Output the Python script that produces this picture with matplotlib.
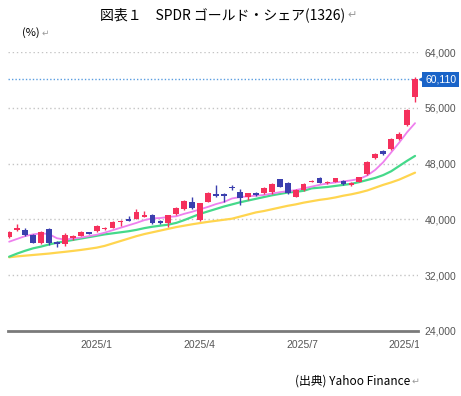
import numpy as np
import matplotlib
matplotlib.use("Agg")
import matplotlib.pyplot as plt
import matplotlib.dates as mdates
from matplotlib.transforms import Bbox, TransformedBbox, blended_transform_factory

# ---------------- data (weekly candles) ----------------
start_date = "2024-10-16"
n_weeks = 52

opens = [37520, 38480, 38480, 37760, 36570, 38580, 36800, 36430, 37290, 37660,
         38150, 38340, 38580, 38810, 39580, 40060, 40060, 40390, 40630, 39770,
         39530, 40730, 41490, 42450, 39910, 42540, 43640, 43640, 44650, 43970,
         43170, 43840, 43740, 43970, 45750, 45270, 43250, 44210, 45370, 45890,
         45180, 45410, 45560, 44890, 45410, 46470, 48760, 49810, 50050, 51530,
         53540, 57600]
closes = [38240, 38720, 37760, 36660, 38240, 36660, 36430, 37760, 37660, 38240,
          37950, 39050, 38810, 39670, 39770, 39820, 41110, 40630, 39440, 39440,
          40630, 41680, 42690, 41590, 42300, 43740, 43350, 43350, 44450, 43020,
          43740, 43500, 44550, 45080, 44690, 43740, 44210, 45030, 45560, 45270,
          45410, 45890, 45080, 45270, 46040, 48280, 49330, 49380, 51530, 52240,
          55690, 60110]
highs = [38400, 39340, 38800, 37900, 38400, 38750, 36900, 38000, 37800, 38300,
         38250, 39150, 38900, 39750, 39850, 40540, 41450, 41250, 40750, 39850,
         40700, 41750, 42800, 43250, 42400, 43900, 44930, 43800, 44930, 44400,
         43850, 43950, 44650, 45200, 45850, 45400, 44300, 45150, 45650, 46100,
         45500, 45990, 45650, 45350, 46150, 48400, 49450, 49950, 51650, 52550,
         55800, 60400]
lows = [37400, 38380, 37600, 36600, 36500, 36300, 36090, 36200, 37000, 37600,
        37900, 38250, 38500, 38700, 39100, 39750, 40000, 40300, 39350, 39350,
        38960, 40650, 41400, 41500, 39800, 42450, 43200, 42540, 44210, 42070,
        42800, 43400, 43650, 43700, 44600, 43650, 43150, 44100, 45300, 45200,
        45100, 45350, 45000, 44800, 45300, 46400, 48650, 49250, 49950, 51450,
        53450, 56870]

ma_short = [36800, 37200, 37600, 37850, 38000, 37900, 37300, 37100, 37250, 37400,
            37600, 37800, 38100, 38450, 38800, 39150, 39500, 39900, 40150, 40200,
            40350, 40450, 40800, 41100, 41450, 41800, 42200, 42500, 43000, 43200,
            43300, 43400, 43500, 43700, 43900, 44050, 44200, 44450, 44700, 44950,
            45150, 45300, 45450, 45600, 45800, 46300, 47100, 48200, 49600, 51000,
            52500, 53800]
ma_mid = [34650, 35100, 35500, 35850, 36100, 36400, 36650, 36850, 37050, 37250,
          37450, 37650, 37850, 38000, 38150, 38300, 38500, 38750, 38950, 39100,
          39250, 39500, 39900, 40350, 40800, 41150, 41500, 41850, 42150, 42450,
          42700, 42950, 43200, 43450, 43650, 43850, 43950, 44100, 44450, 44550,
          44650, 44800, 44950, 45100, 45350, 45650, 45950, 46350, 46900, 47650,
          48400, 49100]
ma_long = [34570, 34700, 34800, 34900, 35000, 35100, 35230, 35350, 35480, 35620,
           35780, 35950, 36200, 36550, 36900, 37250, 37600, 37900, 38150, 38400,
           38650, 38900, 39100, 39300, 39480, 39650, 39800, 39950, 40100, 40400,
           40700, 41000, 41200, 41450, 41700, 41950, 42150, 42400, 42600, 42800,
           42950, 43150, 43400, 43600, 43850, 44150, 44550, 44950, 45300, 45700,
           46200, 46700]

last_price = 60110
y_ticks = [24000, 32000, 40000, 48000, 56000, 64000]
x_tick_dates = ["2025-01-01", "2025-04-01", "2025-07-01", "2025-10-01"]
x_tick_labels = ["2025/1", "2025/4", "2025/7", "2025/10"]

title = "図表１　SPDR ゴールド・シェア(1326)"
unit_label = "(%)"
source = "(出典) Yahoo Finance"

# ---------------- figure ----------------
W, H = 461, 396
fig = plt.figure(figsize=(W / 100, H / 100), dpi=100)
fig.patch.set_facecolor("white")

ax_l, ax_r, ax_t, ax_b = 8, 418, 52, 331
ax = fig.add_axes([ax_l / W, 1 - ax_b / H, (ax_r - ax_l) / W, (ax_b - ax_t) / H])

dates = mdates.date2num(np.arange(np.datetime64(start_date), np.datetime64(start_date) + np.timedelta64(7 * n_weeks, "D"),
                                  np.timedelta64(7, "D")).astype("datetime64[D]").astype(object))

RED = "#f5305c"
BLUE = "#3b3fae"

o = np.array(opens); c = np.array(closes); hi = np.array(highs); lo = np.array(lows)
cols = [RED if cc >= oo else BLUE for oo, cc in zip(o, c)]

ax.plot(dates, ma_long, color="#ffd54f", lw=1.6, zorder=2, solid_capstyle="round")
ax.plot(dates, ma_mid, color="#45d98a", lw=1.6, zorder=2, solid_capstyle="round")
ax.plot(dates, ma_short, color="#ee80ee", lw=1.3, zorder=2, solid_capstyle="round")

ax.vlines(dates, lo, hi, colors=cols, lw=1.0, zorder=3)
ax.bar(dates, np.abs(c - o), bottom=np.minimum(o, c), width=5.0, color=cols, zorder=4, linewidth=0)

# grid
for yv in y_ticks[1:]:
    ax.axhline(yv, color="#c4c4c4", lw=1.0, ls=(0, (1, 2)), zorder=1)
ax.axhline(last_price, color="#5a9de0", lw=1.0, ls=(0, (1, 1.5)), zorder=1)

ax.set_ylim(24000, 64000)
ax.set_xlim(dates[0] - 1.0, dates[-1] + 2.6)

for s in ["top", "left", "right"]:
    ax.spines[s].set_visible(False)
ax.spines["bottom"].set_color("#7a7a7a")
ax.spines["bottom"].set_linewidth(2.0)

ax.yaxis.tick_right()
ax.set_yticks(y_ticks)
ax.set_yticklabels([f"{v:,}" for v in y_ticks])
tick_font = ["Liberation Sans Narrow", "Liberation Sans"]
ax.tick_params(axis="y", length=0, pad=4.5, labelsize=7.5, labelcolor="#555555")
for lab in ax.get_yticklabels():
    lab.set_family(tick_font)
ax.set_xticks([])

# x tick labels, clipped at the plot's right edge
clipbox = TransformedBbox(Bbox([[0, 0], [(ax_r + 1) / W, 1]]), fig.transFigure)
btrans = blended_transform_factory(ax.transData, fig.transFigure)
for d, lab in zip(x_tick_dates, x_tick_labels):
    xd = mdates.date2num(np.datetime64(d).astype(object))
    t = fig.text(xd, 1 - 345 / H, lab, transform=btrans, ha="center", va="center",
                 fontsize=7.5, color="#555555", family=tick_font)
    t.set_clip_on(True)
    t.set_clip_box(clipbox)

# last price tag
ytr = blended_transform_factory(ax.transAxes, ax.transData)
ax.text(1.0 + 7 / (ax_r - ax_l), last_price, f"{last_price:,}", transform=ytr, ha="left", va="center",
        fontsize=7.5, color="white", family=tick_font, clip_on=False, zorder=6,
        bbox=dict(boxstyle="square,pad=0.25", fc="#1a64c8", ec="none"))
ax.plot([1.0 + 4 / (ax_r - ax_l)], [last_price], marker="<", ms=5, color="#1a64c8", transform=ytr,
        clip_on=False, zorder=5)

# texts
jp = ["Noto Sans CJK JP", "DejaVu Sans"]
renderer = fig.canvas.get_renderer()


def text_with_mark(x, y, s, size, ha="left"):
    t = fig.text(x / W, 1 - y / H, s, ha=ha, va="center", fontsize=size, color="black", family=jp)
    bb = t.get_window_extent(renderer)
    fig.text(bb.x1 / W + 2 / W, 1 - y / H, "↵", ha="left", va="center", fontsize=size * 0.8,
             color="#999999", family=jp)
    return t


text_with_mark(100, 15, title, 10)
text_with_mark(22, 33, unit_label, 8)
text_with_mark(410, 381, source, 8.5, ha="right")

fig.savefig("out.png", dpi=100, facecolor="white")
